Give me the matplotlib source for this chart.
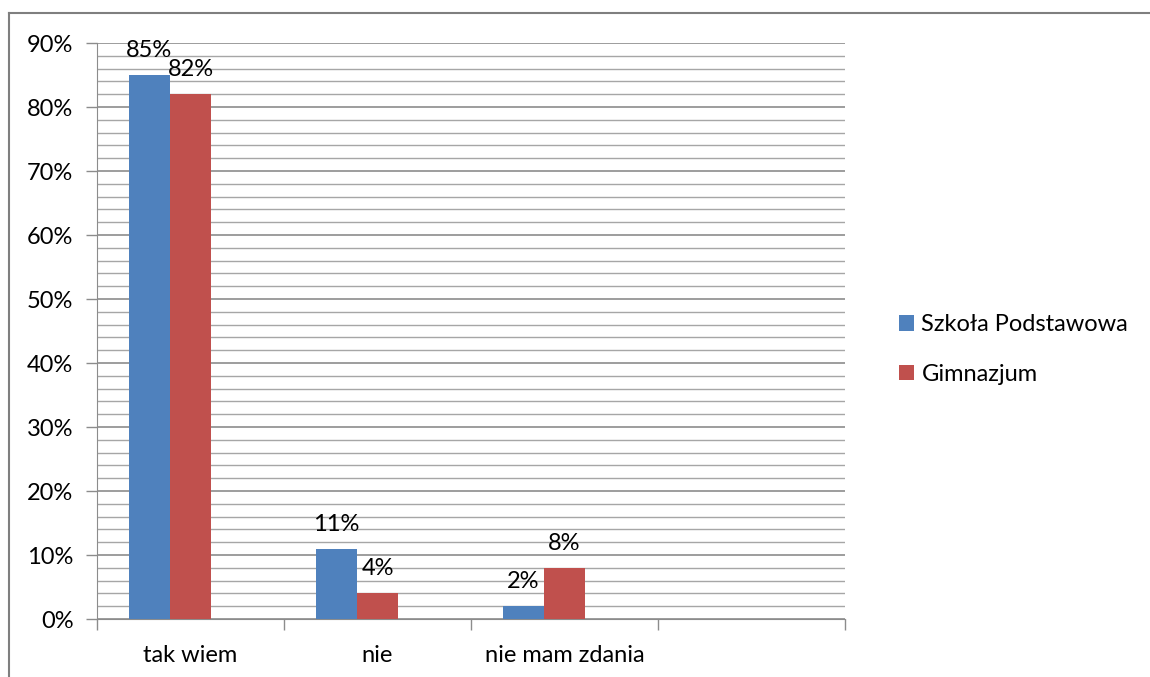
import matplotlib
matplotlib.use("Agg")
import matplotlib.pyplot as plt
import numpy as np

plt.rcParams['font.family'] = ['Lato', 'DejaVu Sans']

categories = ["tak wiem", "nie", "nie mam zdania", ""]
series_names = ["Szkoła Podstawowa", "Gimnazjum"]
podstawowa = [0.85, 0.11, 0.02]
gimnazjum = [0.82, 0.04, 0.08]
y_ticks = [0.0, 0.1, 0.2, 0.3, 0.4, 0.5, 0.6, 0.7, 0.8, 0.9]
y_tick_labels = ["0%", "10%", "20%", "30%", "40%", "50%", "60%", "70%", "80%", "90%"]

blue = "#4F81BD"
red = "#C0504D"
grid_c = "#8c8c8c"
FS = 17

fig = plt.figure(figsize=(11.5, 6.77), dpi=100)

# chart area border: only the top and left edges fall inside the canvas
frame = fig.add_axes([9/1150, 0, 1 - 9/1150, 1 - 13/677], zorder=-1)
frame.set_xticks([])
frame.set_yticks([])
frame.patch.set_visible(False)
for s in ("right", "bottom"):
    frame.spines[s].set_visible(False)
for s in ("top", "left"):
    frame.spines[s].set_color("#7f7f7f")
    frame.spines[s].set_linewidth(1.5)

ax = fig.add_axes([97/1150, 1 - 619/677, (845-97)/1150, (619-43)/677])

w = 0.22
x = np.arange(len(podstawowa))
b1 = ax.bar(x - w, podstawowa, w, color=blue, label=series_names[0], zorder=3)
b2 = ax.bar(x, gimnazjum, w, color=red, label=series_names[1], zorder=3)

for bars, vals in ((b1, podstawowa), (b2, gimnazjum)):
    for rect, v in zip(bars, vals):
        ax.annotate(f"{round(v*100)}%", (rect.get_x() + rect.get_width()/2, v),
                    xytext=(0, 13), textcoords="offset points",
                    ha="center", va="baseline", fontsize=FS, color="black")

ax.set_xlim(-0.5, 3.5)
ax.set_ylim(0, 0.9)

# gridlines: major every 10%, minor every 2%
ax.set_yticks(y_ticks)
ax.set_yticklabels(y_tick_labels, fontsize=FS)
ax.set_yticks(np.arange(0, 0.9001, 0.02), minor=True)
ax.yaxis.grid(True, which="major", color=grid_c, lw=1.2, zorder=0)
ax.yaxis.grid(True, which="minor", color="#a6a6a6", lw=1.0, zorder=0)
ax.tick_params(axis="y", which="major", length=8, width=1, color=grid_c, pad=9)
ax.tick_params(axis="y", which="minor", length=0)

ax.set_xticks(np.arange(len(categories)))
ax.set_xticklabels(categories, fontsize=FS)
ax.set_xticks(np.arange(-0.5, 3.51, 1.0), minor=True)
ax.tick_params(axis="x", which="major", length=0, pad=19)
ax.tick_params(axis="x", which="minor", length=8, width=1, color=grid_c)

for s in ("top", "right"):
    ax.spines[s].set_visible(False)
ax.spines["left"].set_color(grid_c)
ax.spines["bottom"].set_color(grid_c)

fig.legend(handles=[b1, b2], labels=series_names, loc="center left",
           bbox_to_anchor=(878/1150, 1 - 349.5/677), frameon=False,
           fontsize=FS, handlelength=0.64, handleheight=0.64,
           handletextpad=0.3, labelspacing=1.2)

fig.savefig("out.png", dpi=100)
